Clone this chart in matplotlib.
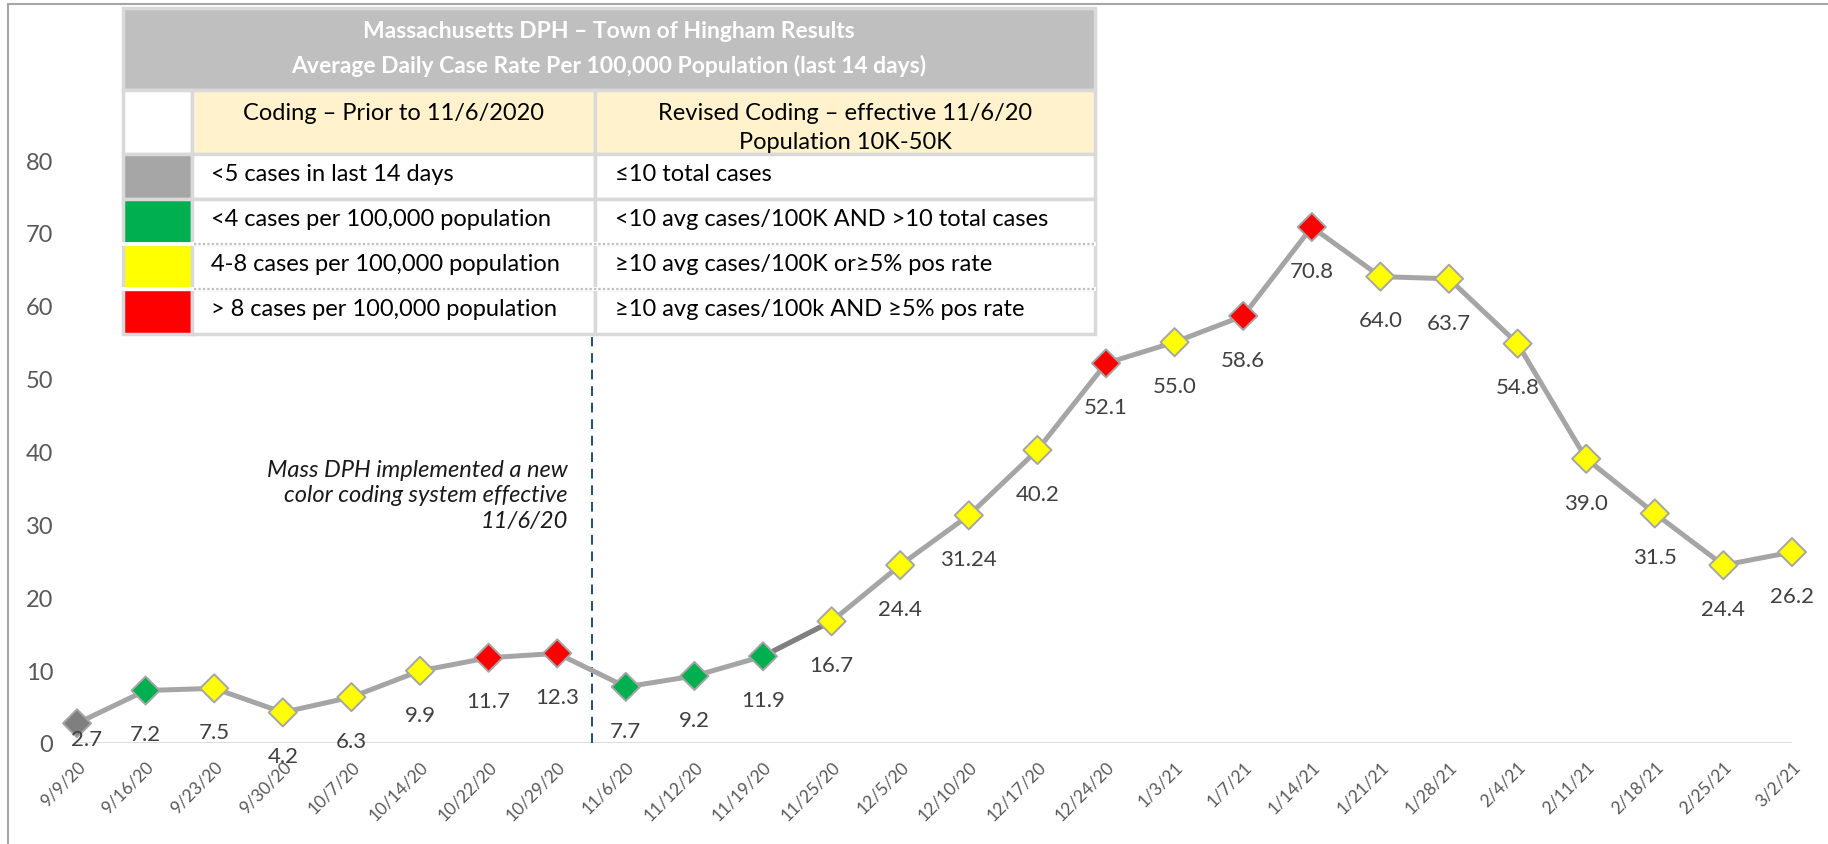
import matplotlib
matplotlib.use("Agg")
import matplotlib.pyplot as plt
from matplotlib.patches import Rectangle
from matplotlib.lines import Line2D

plt.rcParams['font.family'] = ['Lato', 'DejaVu Sans']

# weekly report dates and average daily case rate per 100k
dates = ['9/9/20', '9/16/20', '9/23/20', '9/30/20', '10/7/20', '10/14/20', '10/22/20',
         '10/29/20', '11/6/20', '11/12/20', '11/19/20', '11/25/20', '12/5/20', '12/10/20',
         '12/17/20', '12/24/20', '1/3/21', '1/7/21', '1/14/21', '1/21/21', '1/28/21',
         '2/4/21', '2/11/21', '2/18/21', '2/25/21', '3/2/21']
rates = [2.7, 7.2, 7.5, 4.2, 6.3, 9.9, 11.7, 12.3, 7.7, 9.2, 11.9, 16.7, 24.4, 31.24,
         40.2, 52.1, 55.0, 58.6, 70.8, 64.0, 63.7, 54.8, 39.0, 31.5, 24.4, 26.2]
rate_labels = ['2.7', '7.2', '7.5', '4.2', '6.3', '9.9', '11.7', '12.3', '7.7', '9.2',
               '11.9', '16.7', '24.4', '31.24', '40.2', '52.1', '55.0', '58.6', '70.8',
               '64.0', '63.7', '54.8', '39.0', '31.5', '24.4', '26.2']
codes = ['gray', 'green', 'yellow', 'yellow', 'yellow', 'yellow', 'red', 'red', 'green',
         'green', 'green', 'yellow', 'yellow', 'yellow', 'yellow', 'red', 'yellow', 'red',
         'red', 'yellow', 'yellow', 'yellow', 'yellow', 'yellow', 'yellow', 'yellow']

# legend table contents
table_title = ['Massachusetts DPH \u2013 Town of Hingham Results',
               'Average Daily Case Rate Per 100,000 Population (last 14 days)']
prior_header = 'Coding \u2013 Prior to 11/6/2020'
revised_header = 'Revised Coding \u2013 effective 11/6/20\nPopulation 10K-50K'
legend_codes = ['gray', 'green', 'yellow', 'red']
prior_rules = ['<5 cases in last 14 days',
               '<4 cases per 100,000 population',
               '4-8 cases per 100,000 population',
               '> 8 cases per 100,000 population']
revised_rules = ['\u226410 total cases',
                 '<10 avg cases/100K AND >10 total cases',
                 '\u226510 avg cases/100K or\u22655% pos rate',
                 '\u226510 avg cases/100k AND \u22655% pos rate']
note = 'Mass DPH implemented a new\ncolor coding system effective\n11/6/20'
change_pos = 7.5  # between 10/29/20 and 11/6/20

marker_colors = {'gray': '#7f7f7f', 'green': '#00b050', 'yellow': '#ffff00', 'red': '#ff0000'}
swatch_colors = {'gray': '#a6a6a6', 'green': '#00b050', 'yellow': '#ffff00', 'red': '#ff0000'}

W, H = 1828, 845
fig = plt.figure(figsize=(W / 100, H / 100), dpi=100)
fig.patch.set_facecolor('white')

# main chart
ax_l, ax_r, ax_b, ax_t = 77, 1792, 744, 161
ax = fig.add_axes([ax_l / W, 1 - ax_b / H, (ax_r - ax_l) / W, (ax_b - ax_t) / H])
x = list(range(len(dates)))
ax.plot(x, rates, color='#a5a5a5', lw=3.6, zorder=2, solid_joinstyle='round')
ax.plot(x[10:12], rates[10:12], color='#808080', lw=3.6, zorder=2)
ax.scatter(x, rates, marker='D', s=205, c=[marker_colors[c] for c in codes],
           edgecolors='#a5a5a5', linewidths=1.4, zorder=3, clip_on=False)

for i, (xi, yi, lab) in enumerate(zip(x, rates, rate_labels)):
    off = (7, -11.5) if i == 0 else (0, -31.5)
    ax.annotate(lab, (xi, yi), xytext=off, textcoords='offset points',
                ha='center', va='center', fontsize=16, color='#404040', zorder=4)

ax.set_xlim(0, len(dates) - 1)
ax.set_ylim(0, 80)
ax.set_yticks(range(0, 81, 10))
ax.set_xticks(x)
ax.set_xticklabels(dates, rotation=45, ha='right', rotation_mode='anchor')
ax.tick_params(axis='x', length=0, pad=11, labelsize=12.5, labelcolor='#595959')
ax.tick_params(axis='y', length=0, pad=17, labelsize=17, labelcolor='#595959')
for s in ax.spines.values():
    s.set_visible(False)
ax.axhline(0, color='#d9d9d9', lw=2, zorder=1)

# table grid in pixels
col_edges = [123, 192, 595, 1095]
row_edges = [9, 91, 155, 200, 245, 290, 335]

line_top = 1 - (row_edges[-1] + 3 - ax_t) / (ax_b - ax_t)
ax.axvline(change_pos, ymin=0, ymax=line_top, color='#1f4e79', lw=1.4,
           ls=(0, (5, 3.5)), zorder=1)
ax.annotate(note, xy=(change_pos, (ax_b - 496) / (ax_b - ax_t)),
            xycoords=ax.get_xaxis_transform(), xytext=(-17, 0), textcoords='offset points',
            ha='right', va='center', multialignment='right', fontsize=17,
            style='italic', color='#1a1a1a', linespacing=1.27)

# overlay for the legend table and frame
tax = fig.add_axes([0, 0, 1, 1], zorder=5)
tax.set_xlim(0, W)
tax.set_ylim(H, 0)
tax.axis('off')
tax.patch.set_alpha(0)

edge = '#d9d9d9'
txt = 17


def cell(x0, x1, y0, y1, fc):
    tax.add_patch(Rectangle((x0, y0), x1 - x0, y1 - y0, facecolor=fc,
                            edgecolor=edge, lw=2.5))


cell(col_edges[0], col_edges[3], row_edges[0], row_edges[1], '#bfbfbf')
tax.text((col_edges[0] + col_edges[3]) / 2, (row_edges[0] + row_edges[1]) / 2 - 1,
         '\n'.join(table_title), ha='center', va='center', color='white',
         fontsize=16.5, fontweight='bold', linespacing=1.75)

cell(col_edges[0], col_edges[1], row_edges[1], row_edges[2], 'white')
cell(col_edges[1], col_edges[2], row_edges[1], row_edges[2], '#fff2cc')
cell(col_edges[2], col_edges[3], row_edges[1], row_edges[2], '#fff2cc')
tax.text((col_edges[1] + col_edges[2]) / 2, 114, prior_header, ha='center',
         va='center', fontsize=txt, color='black')
tax.text((col_edges[2] + col_edges[3]) / 2, 128, revised_header, ha='center',
         va='center', fontsize=txt, color='black', linespacing=1.45)

for k, code in enumerate(legend_codes):
    y0, y1 = row_edges[2 + k], row_edges[3 + k]
    cell(col_edges[0], col_edges[1], y0, y1, swatch_colors[code])
    cell(col_edges[1], col_edges[2], y0, y1, 'white')
    cell(col_edges[2], col_edges[3], y0, y1, 'white')
    yc = (y0 + y1) / 2 - 3
    tax.text(col_edges[1] + 19, yc, prior_rules[k], ha='left', va='center',
             fontsize=txt, color='black')
    tax.text(col_edges[2] + 20, yc, revised_rules[k], ha='left', va='center',
             fontsize=txt, color='black')

# dotted separators between the lower rows
for yy in row_edges[4:6]:
    tax.plot([col_edges[1] + 1.5, col_edges[3] - 1.5], [yy, yy], color='white', lw=2.8)
    tax.plot([col_edges[1] + 1.5, col_edges[3] - 1.5], [yy, yy], color='#bfbfbf',
             lw=1.6, ls=(0, (1, 1)))
    tax.plot([col_edges[0], col_edges[1]], [yy, yy], color='white', lw=2.8)

# picture frame on the left and top
fig.add_artist(Line2D([8 / W, 8 / W], [0, 1 - 5 / H], transform=fig.transFigure,
                      color='#a6a6a6', lw=1.5))
fig.add_artist(Line2D([8 / W, 1], [1 - 5 / H, 1 - 5 / H], transform=fig.transFigure,
                      color='#a6a6a6', lw=1.5))

fig.savefig('out.png', dpi=100)
